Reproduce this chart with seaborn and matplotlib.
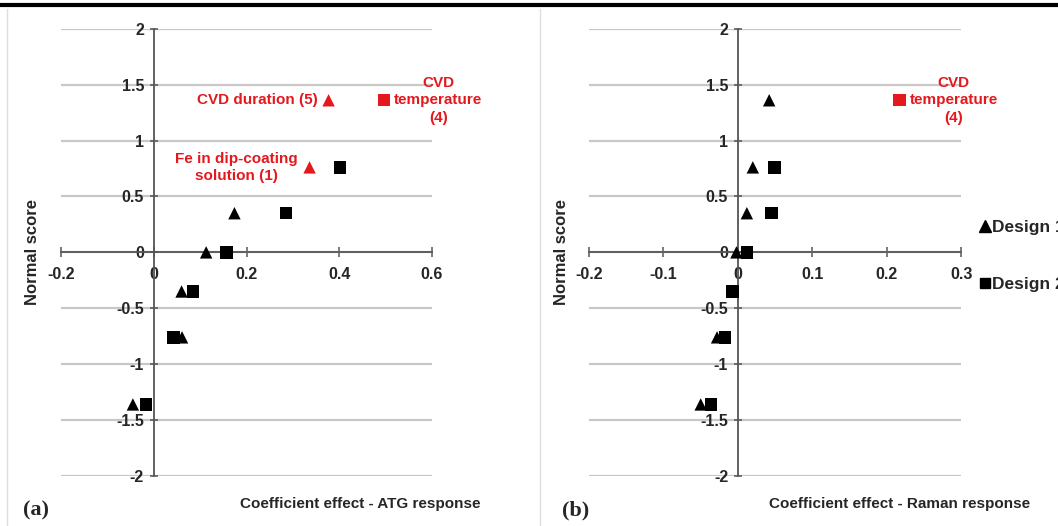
import numpy as np
import pandas as pd
import matplotlib.pyplot as plt
from matplotlib.lines import Line2D
from matplotlib.ticker import FuncFormatter, MultipleLocator
import seaborn as sns

# ================= DATA =================
normal_score = [-1.36, -0.76, -0.35, 0.0, 0.35, 0.76, 1.36]

atg_design1 = [-0.045, 0.061, 0.060, 0.113, 0.174, 0.336, 0.377]
atg_design2 = [-0.017, 0.043, 0.085, 0.157, 0.285, 0.402, 0.497]
raman_design1 = [-0.050, -0.028, -0.007, -0.002, 0.012, 0.020, 0.042]
raman_design2 = [-0.036, -0.017, -0.007, 0.012, 0.045, 0.049, 0.217]

# highlighted (significant) factors: (design, index in normal_score, label)
atg_labels = [("Design 1", 6, "CVD duration (5)"),
              ("Design 1", 5, "Fe in dip-coating\nsolution (1)"),
              ("Design 2", 6, "CVD\ntemperature\n(4)")]
raman_labels = [("Design 2", 6, "CVD\ntemperature\n(4)")]

RED = "#e3191e"


def make_frame(d1, d2, labels):
    rows = []
    for design, vals in (("Design 1", d1), ("Design 2", d2)):
        for i, (v, z) in enumerate(zip(vals, normal_score)):
            hl = any(l[0] == design and l[1] == i for l in labels)
            rows.append({"effect": v, "score": z, "design": design,
                         "highlight": "yes" if hl else "no"})
    return pd.DataFrame(rows)


sns.set_theme(style="white")
plt.rcParams['font.family'] = ['Liberation Sans', 'DejaVu Sans']
plt.rcParams['font.weight'] = 'bold'
plt.rcParams['axes.unicode_minus'] = False

fig = plt.figure(figsize=(10.58, 5.26), dpi=100)
W, H = 1058, 526

panels = [
    dict(d1=atg_design1, d2=atg_design2, labels=atg_labels,
         rect=(61, 28.7, 432, 476), xlim=(-0.2, 0.6), xstep=0.2,
         xlabel="Coefficient effect - ATG response", tag="(a)",
         xlab_x=0.806, ylab_x=-0.0755, tag_x=-0.103),
    dict(d1=raman_design1, d2=raman_design2, labels=raman_labels,
         rect=(589, 28.7, 961.3, 476), xlim=(-0.2, 0.3), xstep=0.1,
         xlabel="Coefficient effect - Raman response", tag="(b)",
         xlab_x=0.833, ylab_x=-0.0744, tag_x=-0.073),
]

fmt = FuncFormatter(lambda v, p: f"{round(v, 2):g}")

for p in panels:
    x0, y0, x1, y1 = p["rect"]
    ax = fig.add_axes([x0 / W, 1 - y1 / H, (x1 - x0) / W, (y1 - y0) / H])
    df = make_frame(p["d1"], p["d2"], p["labels"])
    sns.scatterplot(data=df, x="effect", y="score", style="design",
                    hue="highlight", palette={"no": "black", "yes": RED},
                    markers={"Design 1": "^", "Design 2": "s"},
                    s=80, linewidth=0, legend=False, ax=ax, zorder=3)

    ax.set_xlim(*p["xlim"])
    ax.set_ylim(-2, 2)
    ax.xaxis.set_major_locator(MultipleLocator(p["xstep"]))
    ax.yaxis.set_major_locator(MultipleLocator(0.5))
    ax.xaxis.set_major_formatter(fmt)
    ax.yaxis.set_major_formatter(fmt)
    ax.set_xlabel("")
    ax.set_ylabel("")

    ax.set_axisbelow(True)
    ax.yaxis.grid(True, color="#c8c8c8", lw=1.6)
    ax.xaxis.grid(False)
    for s in ("top", "right"):
        ax.spines[s].set_visible(False)
    for s in ("left", "bottom"):
        ax.spines[s].set_position(("data", 0))
        ax.spines[s].set_color("#555555")
        ax.spines[s].set_linewidth(1.3)
    ax.tick_params(axis="x", direction="inout", length=7, width=1.1,
                   color="#555555", labelsize=11.5, pad=7, bottom=True)
    ax.tick_params(axis="y", direction="inout", length=6, width=1.1,
                   color="#555555", labelsize=11.5, pad=4, left=True)
    for lab in ax.get_xticklabels() + ax.get_yticklabels():
        lab.set_fontweight("bold")

    # red labels next to highlighted points
    xs = {"Design 1": p["d1"], "Design 2": p["d2"]}
    for design, i, text in p["labels"]:
        xv, yv = xs[design][i], normal_score[i]
        if text.startswith("CVD duration"):
            off, ha = (-8, 0), "right"
        elif text.startswith("Fe in"):
            off, ha = (-53, 0), "center"
        else:
            off, ha = (39, 0), "center"
        ax.annotate(text, (xv, yv), xytext=off, textcoords="offset points",
                    ha=ha, va="center", multialignment="center",
                    color=RED, fontsize=11, fontweight="bold",
                    linespacing=1.3, annotation_clip=False)

    ax.text(p["ylab_x"], 0.5, "Normal score", transform=ax.transAxes,
            rotation=90, ha="center", va="center", fontsize=12,
            fontweight="bold")
    ax.text(p["xlab_x"], -0.062, p["xlabel"], transform=ax.transAxes,
            ha="center", va="center", fontsize=11, fontweight="bold")
    ax.text(p["tag_x"], -0.078, p["tag"], transform=ax.transAxes,
            ha="left", va="center", fontsize=16, fontweight="bold",
            family=["Liberation Serif", "DejaVu Serif"])

# legend on the right (clipped by the figure edge as in the original)
handles = [Line2D([], [], marker="^", color="black", ls="none", markersize=8),
           Line2D([], [], marker="s", color="black", ls="none", markersize=7)]
fig.legend(handles, ["Design 1", "Design 2"], loc="upper left",
           bbox_to_anchor=(971 / W, 1 - 211 / H), frameon=False,
           handlelength=0.6, handletextpad=0.1, labelspacing=2.4,
           borderpad=0, prop={"size": 12.5, "weight": "bold"})

# decorative frame lines
fig.add_artist(Line2D([0, 1], [1 - 5 / H, 1 - 5 / H], color="black", lw=3))
for xp in (7, 540):
    fig.add_artist(Line2D([xp / W, xp / W], [0, 1 - 9 / H],
                          color="#dedede", lw=1))

plt.savefig("out.png", dpi=100)
